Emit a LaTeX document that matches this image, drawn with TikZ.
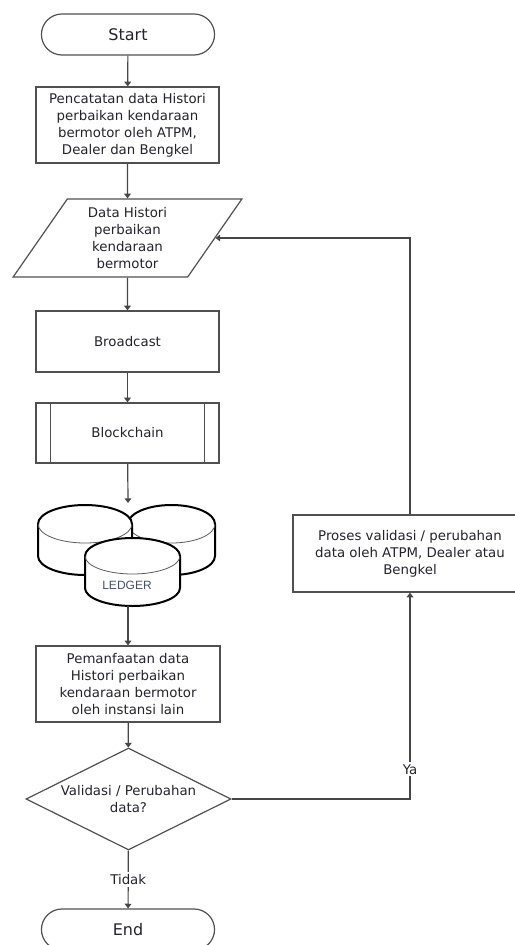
\documentclass[tikz,border=0pt]{standalone}
\usepackage{fontspec}
\setmainfont{DejaVu Sans}
\newfontfamily\ledgerfont{Liberation Sans}
\usetikzlibrary{shapes.geometric,shapes.misc,arrows.meta,calc}

\tikzset{every picture/.style={line width=0.9pt}}
\tikzset{
  flowline/.style={color={rgb, 255:red, 70; green, 70; blue, 70 }},
  flowarrow/.style={flowline, -{Triangle[length=3.5pt,width=5pt]}},
  flowtext/.style={text={rgb, 255:red, 35; green, 35; blue, 45 }, font=\fontsize{10}{12.75}\selectfont, align=center},
  flowbox/.style={draw={rgb, 255:red, 80; green, 80; blue, 80 }, flowtext, rectangle, inner sep=1.5pt},
  terminal/.style={draw={rgb, 255:red, 80; green, 80; blue, 80 }, flowtext, rounded rectangle, minimum width=136.5pt, minimum height=30.75pt, font=\fontsize{12}{14}\selectfont},
  edgelabel/.style={flowtext, fill=white, inner sep=1.5pt}
}

\begin{document}
\begin{tikzpicture}[x=0.75pt,y=0.75pt,yscale=-1,xscale=1]
\useasboundingbox (0,0) rectangle (514,945);

%Shape: Terminator
\node [terminal] (start) at (128,34.5) {Start};
%Shape: Rectangle
\node [flowbox, minimum width=137.25pt, minimum height=57pt] (catat) at (127.5,125) {Pencatatan data Histori\\perbaikan kendaraan\\bermotor oleh ATPM,\\Dealer dan Bengkel};
%Shape: Parallelogram
\node [draw={rgb, 255:red, 80; green, 80; blue, 80 }, flowtext, trapezium, trapezium left angle=60, trapezium right angle=120, trapezium stretches=true, minimum width=171.75pt, minimum height=58.5pt, inner sep=1pt] (histori) at (127.5,238) {Data Histori\\perbaikan\\kendaraan\\bermotor};
%Shape: Rectangle
\node [flowbox, minimum width=137.25pt, minimum height=45.75pt] (broadcast) at (127.5,341.5) {Broadcast};
%Shape: Predefined Process
\node [flowbox, minimum width=137.25pt, minimum height=45pt] (chain) at (127.5,433) {Blockchain};
\draw [color={rgb, 255:red, 80; green, 80; blue, 80 }] ($(chain.north west)+(15,0)$) -- ($(chain.south west)+(15,0)$) ;
\draw [color={rgb, 255:red, 80; green, 80; blue, 80 }] ($(chain.north east)+(-15,0)$) -- ($(chain.south east)+(-15,0)$) ;

%Shape: Database (ledger)
\foreach \cx/\rx/\top/\bot/\ry in {171.5/43.5/524/556/19, 85/47/524/556/19, 132.5/47.5/556/588/18} {
  \filldraw [fill=white, draw=black, line width=1.5pt] (\cx-\rx,\top) -- (\cx-\rx,\bot) arc [start angle=180, end angle=0, x radius=\rx, y radius=\ry] -- (\cx+\rx,\top) arc [start angle=0, end angle=-180, x radius=\rx, y radius=\ry] -- cycle ;
  \draw [color={rgb, 255:red, 90; green, 90; blue, 90 }, line width=0.6pt] (\cx-\rx,\top) arc [start angle=180, end angle=0, x radius=\rx, y radius=\ry] ;
}
\node [text={rgb, 255:red, 70; green, 80; blue, 110 }, font=\ledgerfont\fontsize{9}{10}\selectfont, inner sep=0.75pt] (ledger) at (127,585) {LEDGER};
\coordinate (ledgertop) at (128,503);
\coordinate (ledgerbot) at (128,606);

%Shape: Rectangle
\node [flowbox, minimum width=138pt, minimum height=57pt] (manfaat) at (128,684) {Pemanfaatan data\\Histori perbaikan\\kendaraan bermotor\\oleh instansi lain};
%Shape: Diamond
\node [draw={rgb, 255:red, 80; green, 80; blue, 80 }, flowtext, diamond, aspect=2, minimum width=153.75pt, minimum height=76.5pt, inner sep=0pt] (cek) at (128.5,799) {Validasi / Perubahan\\data?};
%Shape: Rectangle
\node [flowbox, minimum width=175.5pt, minimum height=57.75pt] (proses) at (410,553.5) {Proses validasi / perubahan\\data oleh ATPM, Dealer atau\\Bengkel};
%Shape: Terminator
\node [terminal] (end) at (128,929.5) {End};

%Straight Lines
\draw [flowarrow] (start) -- (catat) ;
\draw [flowarrow] (catat) -- (histori) ;
\draw [flowarrow] (histori) -- (broadcast) ;
\draw [flowarrow] (broadcast) -- (chain) ;
\draw [flowarrow] (chain) -- (ledgertop) ;
\draw [flowarrow] (ledgerbot) -- (manfaat) ;
\draw [flowarrow] (manfaat) -- (cek) ;
\draw [flowarrow] (cek) -- node [edgelabel] {Tidak} (end) ;
\draw [flowarrow] (cek.east) -| node [edgelabel, pos=0.572] {Ya} (proses.south) ;
\draw [flowarrow] (proses.north) |- (histori.east) ;

\end{tikzpicture}
\end{document}
